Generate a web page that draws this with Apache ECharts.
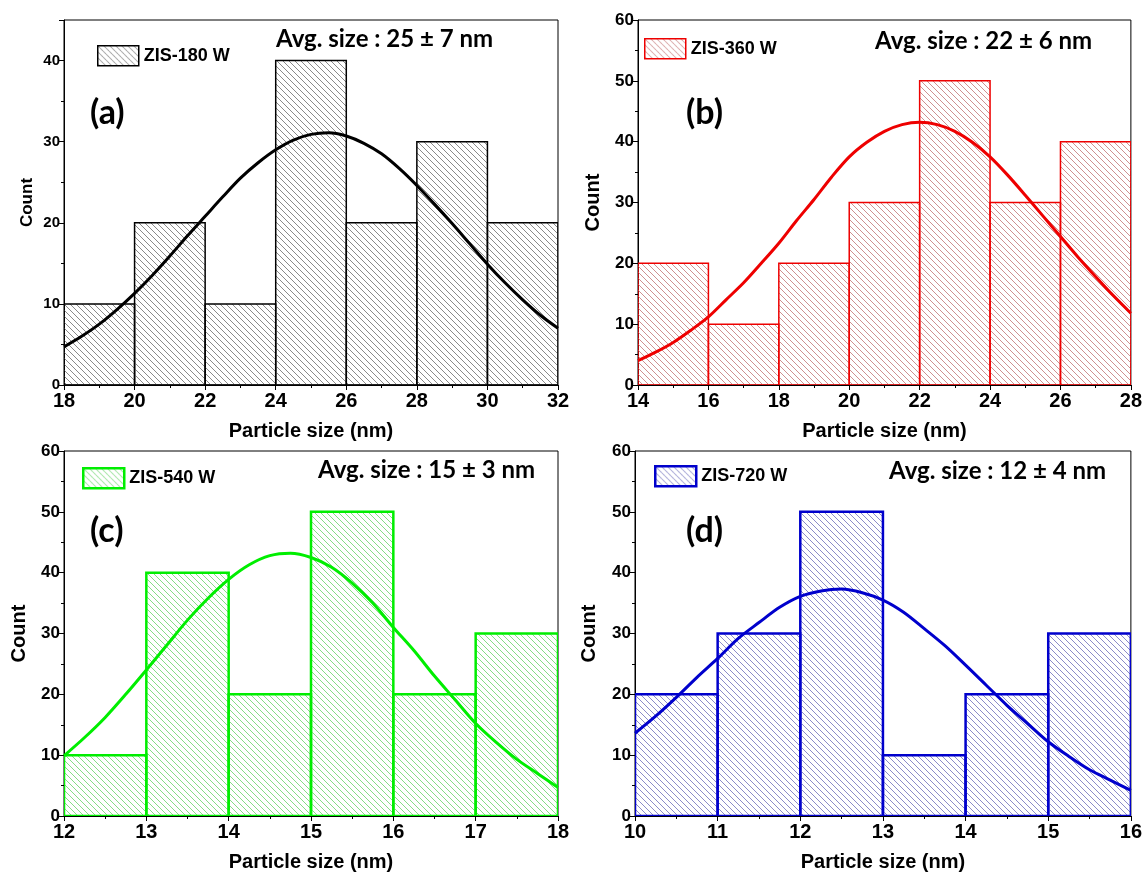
<!DOCTYPE html>
<html>
<head>
<meta charset="utf-8">
<script src="https://cdn.jsdelivr.net/npm/echarts@6/dist/echarts.min.js"></script>
<style>
  html, body { margin: 0; padding: 0; background: #fff; }
  #main { width: 1145px; height: 878px; }
</style>
</head>
<body>
<div id="main"></div>
<script>
// histogram bins: [start, end, count]
var binsA = [[18, 20, 10], [20, 22, 20], [22, 24, 10], [24, 26, 40], [26, 28, 20], [28, 30, 30], [30, 32, 20]];
var binsB = [[14, 16, 20], [16, 18, 10], [18, 20, 20], [20, 22, 30], [22, 24, 50], [24, 26, 30], [26, 28, 40]];
var binsC = [[12, 13, 10], [13, 14, 40], [14, 15, 20], [15, 16, 50], [16, 17, 20], [17, 18, 30]];
var binsD = [[10, 11, 20], [11, 12, 30], [12, 13, 50], [13, 14, 10], [14, 15, 20], [15, 16, 30]];

// fitted curves
var fitA = [[18, 4.7], [18.5, 6.0], [19, 7.5], [19.5, 9.3], [20, 11.3], [20.5, 13.5], [21, 15.9], [21.5, 18.4], [22, 20.8],
  [22.5, 23.2], [23, 25.5], [23.5, 27.4], [24, 29.0], [24.5, 30.2], [25, 30.9], [25.5, 31.1], [26, 30.7], [26.5, 29.8],
  [27, 28.5], [27.5, 26.7], [28, 24.6], [28.5, 22.3], [29, 19.9], [29.5, 17.4], [30, 14.9], [30.5, 12.6], [31, 10.5],
  [31.5, 8.6], [32, 7.0]];
var fitB = [[14, 4.0], [14.5, 5.4], [15, 7.0], [15.5, 9.0], [16, 11.2], [16.5, 14.0], [17, 16.8], [17.5, 20.0], [18, 23.3],
  [18.5, 27.0], [19, 30.5], [19.5, 34.2], [20, 37.5], [20.5, 39.9], [21, 41.7], [21.5, 42.8], [22, 43.2], [22.5, 42.8],
  [23, 41.7], [23.5, 39.9], [24, 37.5], [24.5, 34.5], [25, 31.2], [25.5, 27.8], [26, 24.4], [26.5, 21.0], [27, 17.8],
  [27.5, 14.7], [28, 11.8]];
var fitC = [[12, 9.9], [12.25, 12.9], [12.5, 16.2], [12.75, 20.0], [13, 24.0], [13.25, 28.1], [13.5, 32.2], [13.75, 35.8],
  [14, 38.9], [14.25, 41.3], [14.5, 42.8], [14.75, 43.2], [15, 42.5], [15.25, 40.9], [15.5, 38.3], [15.75, 35.0],
  [16, 31.0], [16.25, 27.2], [16.5, 23.0], [16.75, 19.1], [17, 15.2], [17.25, 12.1], [17.5, 9.3], [17.75, 7.0], [18, 4.7]];
var fitD = [[10, 13.6], [10.25, 16.4], [10.5, 19.5], [10.75, 22.8], [11, 25.9], [11.25, 29.2], [11.5, 31.8], [11.75, 34.3],
  [12, 36.1], [12.25, 37.0], [12.5, 37.3], [12.75, 36.7], [13, 35.5], [13.25, 33.5], [13.5, 30.8], [13.75, 28.0],
  [14, 24.8], [14.25, 21.5], [14.5, 18.2], [14.75, 15.2], [15, 12.2], [15.25, 9.8], [15.5, 7.6], [15.75, 5.9], [16, 4.2]];

var names = ['ZIS-180 W', 'ZIS-360 W', 'ZIS-540 W', 'ZIS-720 W'];
var avgTexts = ['Avg. size : 25 \u00b1 7 nm', 'Avg. size : 22 \u00b1 6 nm', 'Avg. size : 15 \u00b1 3 nm', 'Avg. size : 12 \u00b1 4 nm'];
var letters = ['(a)', '(b)', '(c)', '(d)'];
var xRanges = [[18, 32, 2], [14, 28, 2], [12, 18, 1], [10, 16, 1]];
var yMax = [45, 60, 60, 60];

var lineColors = ['#000000', '#ee0000', '#00ee00', '#0000cc'];
var hatchColors = ['#8a8a8a', '#cf9090', '#86dc86', '#8c8cc8'];

var panels = [
  { bins: binsA, fit: fitA, grid: { left: 64, top: 20, width: 494, height: 365 }, legend: { left: 97, top: 45 }, avg: [276, 41], letter: [90, 115], yFont: 15, yGap: 28, yName: 17, barW: 1.5 },
  { bins: binsB, fit: fitB, grid: { left: 638, top: 20, width: 494, height: 365 }, legend: { left: 644, top: 38 }, avg: [875, 43], letter: [686, 115], yFont: 17, yGap: 35, yName: 20, barW: 1.5 },
  { bins: binsC, fit: fitC, grid: { left: 64, top: 451, width: 494, height: 365 }, legend: { left: 82, top: 467 }, avg: [318, 472], letter: [90, 533], yFont: 17, yGap: 35, yName: 20, barW: 2.5 },
  { bins: binsD, fit: fitD, grid: { left: 635, top: 451, width: 496, height: 365 }, legend: { left: 654, top: 465 }, avg: [889, 473], letter: [686, 533], yFont: 17, yGap: 36, yName: 20, barW: 2.5 }
];

function hatch(color) {
  var s = 6;
  var c = document.createElement('canvas');
  c.width = s; c.height = s;
  var g = c.getContext('2d');
  g.strokeStyle = color;
  g.lineWidth = 1;
  g.beginPath();
  g.moveTo(0, 0); g.lineTo(s, s);
  g.moveTo(-1, s - 1); g.lineTo(1, s + 1);
  g.moveTo(s - 1, -1); g.lineTo(s + 1, 1);
  g.stroke();
  return c;
}

var font = 'Liberation Sans, Arial, sans-serif';
var calib = 'Lato, Open Sans, sans-serif';
var grids = [], xAxes = [], yAxes = [], series = [], legends = [], graphics = [];

panels.forEach(function (p, i) {
  var pattern = { image: hatch(hatchColors[i]), repeat: 'repeat' };
  grids.push(Object.assign({ show: true, borderColor: '#000', borderWidth: 1, backgroundColor: 'transparent' }, p.grid));
  xAxes.push({
    type: 'value', gridIndex: i, min: xRanges[i][0], max: xRanges[i][1], interval: xRanges[i][2],
    name: 'Particle size (nm)', nameLocation: 'middle', nameGap: 36,
    nameTextStyle: { fontFamily: font, fontWeight: 'bold', fontSize: 20, color: '#000' },
    axisLine: { onZero: false, lineStyle: { color: '#000', width: 1 } },
    axisTick: { length: 5, lineStyle: { color: '#000' } },
    minorTick: { show: true, splitNumber: 2, length: 3, lineStyle: { color: '#000' } },
    splitLine: { show: false },
    axisLabel: { fontFamily: font, fontWeight: 'bold', fontSize: 20, color: '#000', margin: 6 }
  });
  yAxes.push({
    type: 'value', gridIndex: i, min: 0, max: yMax[i], interval: 10,
    name: 'Count', nameLocation: 'middle', nameGap: p.yGap, nameRotate: 90,
    nameTextStyle: { fontFamily: font, fontWeight: 'bold', fontSize: p.yName, color: '#000' },
    axisLine: { show: true, lineStyle: { color: '#000', width: 1 } },
    axisTick: { show: true, length: 5, lineStyle: { color: '#000' } },
    minorTick: { show: true, splitNumber: 2, length: 3, lineStyle: { color: '#000' } },
    splitLine: { show: false },
    axisLabel: {
      fontFamily: font, fontWeight: 'bold', fontSize: p.yFont, color: '#000', margin: 4,
      showMaxLabel: yMax[i] % 10 === 0
    }
  });
  series.push({
    type: 'custom', name: names[i], xAxisIndex: i, yAxisIndex: i,
    data: p.bins, clip: true,
    itemStyle: { color: pattern, borderColor: lineColors[i], borderWidth: p.barW },
    renderItem: function (params, api) {
      var a = api.coord([api.value(0), api.value(2)]);
      var b = api.coord([api.value(1), 0]);
      return {
        type: 'rect',
        shape: { x: a[0], y: a[1], width: b[0] - a[0], height: b[1] - a[1] },
        style: { fill: pattern, stroke: lineColors[i], lineWidth: p.barW }
      };
    },
    encode: { x: [0, 1], y: 2 },
    z: 2
  });
  series.push({
    type: 'line', name: names[i] + ' fit', xAxisIndex: i, yAxisIndex: i,
    data: p.fit, smooth: 0.3, showSymbol: false, symbol: 'none',
    lineStyle: { color: lineColors[i], width: 3 },
    z: 3
  });
  legends.push({
    left: p.legend.left, top: p.legend.top, padding: 0, itemWidth: 41, itemHeight: 20,
    data: [{ name: names[i], icon: 'rect', itemStyle: { color: pattern, borderColor: lineColors[i], borderWidth: p.barW } }],
    textStyle: { fontFamily: font, fontWeight: 'bold', fontSize: 18, color: '#000' },
    selectedMode: false
  });
  graphics.push({
    type: 'text', left: p.avg[0], top: p.avg[1] - 14,
    style: { text: avgTexts[i], fontFamily: calib, fontWeight: 'bold', fontSize: 24, fill: '#000' }
  });
  graphics.push({
    type: 'text', left: p.letter[0], top: p.letter[1] - 19,
    style: { text: letters[i], fontFamily: calib, fontWeight: 'bold', fontSize: 34, fill: '#000' }
  });
});

var myChart = echarts.init(document.getElementById('main'));
var option = {
  animation: false,
  backgroundColor: '#fff',
  grid: grids,
  xAxis: xAxes,
  yAxis: yAxes,
  legend: legends,
  graphic: graphics,
  series: series
};
myChart.setOption(option);
</script>
</body>
</html>
